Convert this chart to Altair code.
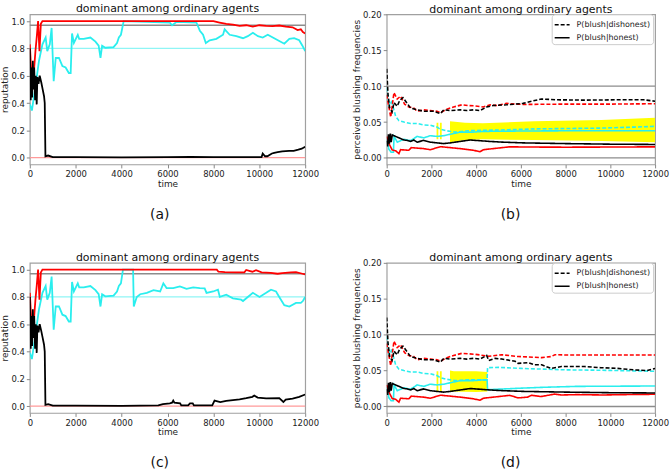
import altair as alt
import pandas as pd

TITLE = "dominant among ordinary agents"
X_TICKS = [0, 2000, 4000, 6000, 8000, 10000, 12000]
REP_TICKS = [0.0, 0.2, 0.4, 0.6, 0.8, 1.0]
BLUSH_TICKS = [0.0, 0.05, 0.10, 0.15, 0.20]

# ---------------- panel (a) / (c): reputation ----------------
red_early_t = [0, 70, 140, 190, 245, 300, 360, 420, 480, 550, 620]
red_early_v = [0.83, 0.61, 0.51, 0.66, 0.78, 0.88, 1.0, 0.78, 0.98, 1.0, 1.0]
a_red_late_t = [8000, 8270, 8560, 8850, 9140, 9430, 9720, 10000, 10300, 10580, 10870, 11160, 11450, 11670, 11810, 11900, 12000]
a_red_late_v = [1.0, 0.99, 0.98, 0.975, 0.965, 0.97, 0.96, 0.97, 0.966, 0.964, 0.968, 0.96, 0.955, 0.935, 0.94, 0.92, 0.91]
c_red_late_t = [8150, 8220, 8500, 9000, 9350, 9430, 9600, 9700, 9860, 10100, 10500, 10800, 11000, 11380, 11600, 11880, 12000]
c_red_late_v = [1.0, 0.985, 0.982, 0.98, 0.981, 0.998, 0.99, 0.985, 0.996, 0.98, 0.976, 0.97, 0.975, 0.98, 0.982, 0.97, 0.965]

cyan_early_t = [0, 90, 260, 400, 550, 690, 760, 870, 950, 1040, 1130, 1270, 1420, 1560, 1700, 1780, 1840, 1920, 2090, 2150, 2350, 2640, 2860, 3000, 3080, 3150, 3290, 3650, 3800, 3880, 3970]
cyan_early_v = [0.39, 0.345, 0.54, 0.71, 0.83, 0.88, 0.78, 0.83, 0.95, 0.56, 0.73, 0.73, 0.67, 0.66, 0.62, 0.62, 0.91, 0.84, 0.9, 0.87, 0.87, 0.88, 0.85, 0.82, 0.73, 0.82, 0.805, 0.81, 0.84, 0.88, 0.9]
a_cyan_late_t = [4030, 4090, 6100, 6200, 6400, 7260, 7410, 7550, 7670, 7840, 8130, 8420, 8490, 8710, 9000, 9290, 9500, 9720, 9940, 10150, 10370, 10590, 10870, 11090, 11310, 11520, 11740, 11880, 12000]
a_cyan_late_v = [0.95, 1.0, 0.99, 0.97, 0.995, 0.99, 0.93, 0.9, 0.84, 0.86, 0.87, 0.9, 0.94, 0.9, 0.89, 0.875, 0.89, 0.915, 0.89, 0.88, 0.9, 0.88, 0.855, 0.835, 0.87, 0.875, 0.86, 0.82, 0.78]
c_cyan_late_t = [4060, 4500, 4530, 4660, 4810, 5100, 5390, 5680, 5820, 5960, 6250, 6540, 6830, 7120, 7410, 7620, 7700, 7990, 8200, 8280, 8560, 8850, 9210, 9290, 9500, 9720, 10010, 10300, 10510, 10730, 10870, 11090, 11310, 11600, 11810, 11900, 12000]
c_cyan_late_v = [1.0, 1.0, 0.73, 0.8, 0.82, 0.83, 0.85, 0.84, 0.9, 0.865, 0.865, 0.877, 0.86, 0.87, 0.865, 0.863, 0.83, 0.84, 0.853, 0.8, 0.816, 0.79, 0.78, 0.77, 0.8, 0.83, 0.8, 0.83, 0.853, 0.84, 0.8, 0.74, 0.73, 0.756, 0.756, 0.77, 0.8]

black_early_t = [0, 40, 70, 100, 130, 160, 190, 230, 260, 300, 330, 380, 430, 500, 560, 620, 650, 680, 800, 1000, 2000, 4000]
black_early_v = [0.8, 0.42, 0.66, 0.44, 0.71, 0.5, 0.66, 0.42, 0.6, 0.39, 0.59, 0.54, 0.6, 0.55, 0.5, 0.45, 0.4, 0.01, 0.015, 0.003, 0.004, 0.002]
a_black_late_t = [6000, 7000, 8000, 10100, 10150, 10250, 10350, 10550, 10650, 10800, 11000, 11300, 11500, 11700, 11850, 12000]
a_black_late_v = [0.003, 0.005, 0.003, 0.004, 0.03, 0.01, 0.01, 0.03, 0.035, 0.04, 0.045, 0.05, 0.05, 0.058, 0.065, 0.08]
c_black_late_t = [5600, 5800, 6100, 6200, 6250, 6300, 6550, 6600, 6900, 6980, 7100, 7150, 7950, 8050, 8300, 8560, 8850, 9140, 9430, 9700, 9780, 9930, 10300, 10870, 11050, 11150, 11450, 11740, 12000]
c_black_late_v = [0.005, 0.015, 0.02, 0.025, 0.04, 0.025, 0.02, 0.005, 0.005, 0.02, 0.02, 0.005, 0.005, 0.04, 0.03, 0.038, 0.044, 0.05, 0.058, 0.068, 0.077, 0.063, 0.056, 0.058, 0.03, 0.048, 0.055, 0.068, 0.085]

rep_ref_v = [0.97, 0.8, 0.0]
rep_ref_c = ["#8c8c8c", "#8ff5f5", "#ff9a9a"]

# ---------------- panel (b) / (d): blushing frequencies ----------------
red_dash_early_t = [0, 180, 325, 470, 620, 800, 990, 1210, 1360, 1660, 1950, 2250, 2400, 2690, 2990, 3360]
red_dash_early_v = [0.088, 0.057, 0.091, 0.082, 0.086, 0.075, 0.071, 0.0695, 0.065, 0.067, 0.066, 0.065, 0.063, 0.068, 0.071, 0.074]
b_red_dash_late_t = [3650, 3950, 4320, 4620, 4900, 5360, 5800, 6100, 8000, 10000, 12000]
b_red_dash_late_v = [0.073, 0.0725, 0.071, 0.074, 0.073, 0.076, 0.075, 0.0745, 0.075, 0.075, 0.0755]
d_red_dash_late_t = [3970, 4560, 5150, 5740, 5875, 6330, 6930, 7350, 7520, 8100, 9600, 12000]
d_red_dash_late_v = [0.0726, 0.07, 0.072, 0.07, 0.0695, 0.069, 0.068, 0.0695, 0.072, 0.0717, 0.0717, 0.0717]

red_solid_early_t = [0, 100, 250, 400, 546, 620, 990, 1100, 1660, 1950, 2400, 2840, 3290, 3880, 4170, 4320, 4760, 5500]
red_solid_early_v = [0.03, 0.02, 0.011, 0.01, 0.006, 0.0115, 0.0107, 0.0144, 0.013, 0.0115, 0.0157, 0.0144, 0.013, 0.0107, 0.0087, 0.0115, 0.013, 0.0155]
b_red_solid_late_t = [6500, 8000, 10000, 12000]
b_red_solid_late_v = [0.0152, 0.015, 0.0152, 0.0155]
d_red_solid_late_t = [5875, 6300, 6470, 6900, 7500, 7800, 8500, 9700, 10500, 12000]
d_red_solid_late_v = [0.012, 0.013, 0.0156, 0.0138, 0.0172, 0.016, 0.0165, 0.016, 0.0165, 0.017]

black_dash_early_t = [0, 60, 130, 240, 325, 470, 580, 725, 870, 1065, 1360, 1660, 2100, 2400, 2550, 2840, 3290, 3580, 3880, 4170, 4470]
black_dash_early_v = [0.124, 0.088, 0.07, 0.064, 0.077, 0.072, 0.08, 0.084, 0.078, 0.0695, 0.067, 0.065, 0.065, 0.0617, 0.067, 0.066, 0.067, 0.066, 0.067, 0.066, 0.071]
b_black_dash_late_t = [4760, 5360, 6100, 6470, 6910, 7650, 8840, 10320, 11500, 12000]
b_black_dash_late_v = [0.073, 0.074, 0.076, 0.079, 0.082, 0.081, 0.0805, 0.081, 0.081, 0.079]
d_black_dash_late_t = [4560, 4850, 5150, 5740, 5875, 6330, 6610, 6930, 7350, 7810, 8830, 9570, 10320, 11060, 11650, 12000]
d_black_dash_late_v = [0.064, 0.067, 0.066, 0.063, 0.06, 0.061, 0.058, 0.058, 0.053, 0.0556, 0.0556, 0.054, 0.053, 0.051, 0.05, 0.053]

cyan_dash_early_t = [0, 100, 200, 325, 400, 546, 770, 1065, 1360, 1660, 1950, 2250, 2400, 2650, 3080]
cyan_dash_early_v = [0.098, 0.073, 0.08, 0.067, 0.058, 0.052, 0.05, 0.048, 0.048, 0.046, 0.0455, 0.043, 0.04, 0.038, 0.036]
b_cyan_dash_late_t = [3670, 5150, 6630, 8110, 9590, 11070, 12000]
b_cyan_dash_late_v = [0.038, 0.039, 0.0405, 0.041, 0.0416, 0.043, 0.044]
d_cyan_dash_late_t = [3670, 4490, 4510, 5000, 6000, 7000, 8000, 9500, 12000]
d_cyan_dash_late_v = [0.037, 0.037, 0.054, 0.0545, 0.053, 0.052, 0.051, 0.0505, 0.049]

cyan_solid_early_t = [0, 100, 200, 300, 330, 473, 770, 1065, 1360, 1660, 1950, 2250, 2545, 2840, 3290, 3880, 4320]
cyan_solid_early_v = [0.027, 0.012, 0.008, 0.008, 0.03, 0.022, 0.026, 0.024, 0.03, 0.028, 0.031, 0.03, 0.031, 0.033, 0.036, 0.036, 0.037]
b_cyan_solid_late_t = [6000, 9000, 12000]
b_cyan_solid_late_v = [0.0375, 0.038, 0.038]
d_cyan_solid_late_t = [4490, 4510, 6000, 7000, 8500, 12000]
d_cyan_solid_late_v = [0.037, 0.0234, 0.0255, 0.0267, 0.028, 0.0285]

black_solid_t = [0, 40, 80, 120, 160, 200, 250, 325, 473, 620, 770, 916, 1065, 1213, 1361, 1657, 1953, 2249, 2545, 2842, 3286, 3730, 4174, 4616, 5210, 6098, 8000, 10000, 12000]
black_solid_v = [0.024, 0.016, 0.033, 0.02, 0.034, 0.022, 0.032, 0.031, 0.029, 0.027, 0.025, 0.0245, 0.023, 0.025, 0.022, 0.0245, 0.022, 0.021, 0.02, 0.021, 0.023, 0.025, 0.024, 0.023, 0.022, 0.021, 0.02, 0.0192, 0.0188]

blush_ref_v = [0.1, 0.0]
blush_ref_c = ["#8c8c8c", "#8c8c8c"]

# yellow bands: (segment, t, lo, hi)
b_band_seg = ["s1", "s1", "s2", "s2", "s3", "s3", "s3", "s3", "s3", "s3"]
b_band_t = [2230, 2310, 2380, 2460, 2830, 3500, 4300, 6600, 9600, 12000]
b_band_lo = [0.026, 0.026, 0.026, 0.026, 0.022, 0.025, 0.026, 0.025, 0.0235, 0.022]
b_band_hi = [0.049, 0.049, 0.049, 0.049, 0.051, 0.049, 0.0485, 0.051, 0.053, 0.056]
d_band_seg = ["s1", "s1", "s2", "s2", "s3", "s3", "s3", "s3"]
d_band_t = [2230, 2310, 2380, 2460, 2830, 3000, 4000, 4500]
d_band_lo = [0.02, 0.02, 0.02, 0.02, 0.022, 0.021, 0.02, 0.021]
d_band_hi = [0.049, 0.049, 0.049, 0.049, 0.05, 0.049, 0.049, 0.048]

COLOR_DOMAIN = ["cyan", "red", "black"]
COLOR_RANGE = ["#2aeeee", "#ff0000", "#000000"]
KIND_DOMAIN = ["P(blush|dishonest)", "P(blush|honest)"]

FONT = "DejaVu Sans"


def df(t, v, col, kind=None):
    d = pd.DataFrame({"t": t, "v": v, "col": col})
    if kind is not None:
        d["kind"] = kind
    return d


def xenc():
    return alt.X("t:Q", scale=alt.Scale(domain=[0, 12000], nice=False),
                 axis=alt.Axis(values=X_TICKS, title="time", format="d", labelOverlap=False))


def panel_title(dy=0):
    return alt.TitleParams(TITLE, fontSize=11, font=FONT, fontWeight="normal",
                           anchor="middle", frame="group", offset=0, dy=dy, color="#111")


def rep_y(field):
    return alt.Y(field, scale=alt.Scale(domain=[-0.05, 1.05], nice=False, zero=False),
                 axis=alt.Axis(values=REP_TICKS, format=".1f", title="reputation", labelOverlap=False))


def blush_y(field):
    return alt.Y(field, scale=alt.Scale(domain=[-0.009, 0.2], nice=False, zero=False),
                 axis=alt.Axis(values=BLUSH_TICKS, format=".2f", title="perceived blushing frequencies",
                               labelOverlap=False))


def rep_panel(red_t, red_v, cyan_t, cyan_v, black_t, black_v):
    lines = pd.concat([df(cyan_t, cyan_v, "cyan"), df(red_t, red_v, "red"),
                       df(black_t, black_v, "black")])
    refs = pd.DataFrame({"v": rep_ref_v, "c": rep_ref_c})
    rules = alt.Chart(refs).mark_rule(strokeWidth=1.3).encode(
        y=rep_y("v:Q"), stroke=alt.Stroke("c:N", scale=None, legend=None))
    ln = alt.Chart(lines).mark_line(strokeWidth=1.8, clip=True).encode(
        x=xenc(), y=rep_y("v:Q"),
        color=alt.Color("col:N", scale=alt.Scale(domain=COLOR_DOMAIN, range=COLOR_RANGE), legend=None),
        detail="col:N")
    return alt.layer(rules, ln).properties(width=277, height=151, title=panel_title())


def blush_panel(series, band):
    lines = pd.concat(series)
    refs = pd.DataFrame({"v": blush_ref_v, "c": blush_ref_c})
    rules = alt.Chart(refs).mark_rule(strokeWidth=1.3).encode(
        y=blush_y("v:Q"), stroke=alt.Stroke("c:N", scale=None, legend=None))
    area = alt.Chart(band).mark_area(color="#ffff00", opacity=1, clip=True).encode(
        x=xenc(), y=blush_y("lo:Q"), y2="hi:Q", detail="seg:N")
    ln = alt.Chart(lines).mark_line(strokeWidth=1.6, clip=True).encode(
        x=xenc(), y=blush_y("v:Q"),
        color=alt.Color("col:N", scale=alt.Scale(domain=COLOR_DOMAIN, range=COLOR_RANGE), legend=None),
        strokeDash=alt.StrokeDash("kind:N",
                                  scale=alt.Scale(domain=KIND_DOMAIN, range=[[4, 2], [1, 0]]),
                                  legend=alt.Legend(orient="none", legendX=166, legendY=0,
                                                    title=None,
                                                    padding=2, strokeColor="#cccccc",
                                                    fillColor="white", cornerRadius=3,
                                                    symbolType="stroke", symbolSize=225,
                                                    symbolStrokeWidth=1.6,
                                                    symbolStrokeColor="black",
                                                    labelFontSize=8, labelFont=FONT,
                                                    labelColor="#222", rowPadding=0,
                                                    labelOffset=6)))
    return alt.layer(rules, area, ln).properties(width=270, height=151, title=panel_title(4.5))


def indep(c):
    return c.resolve_scale(strokeDash="independent", color="independent",
                           stroke="independent").resolve_legend(strokeDash="independent")


def label(chart, text):
    return indep(alt.vconcat(chart).properties(
        title=alt.TitleParams(text, orient="bottom", anchor="middle", fontSize=14,
                              font=FONT, fontWeight="normal", offset=19, color="#111")))


pa = rep_panel(red_early_t + a_red_late_t, red_early_v + a_red_late_v,
               cyan_early_t + a_cyan_late_t, cyan_early_v + a_cyan_late_v,
               black_early_t + a_black_late_t, black_early_v + a_black_late_v)
pc = rep_panel(red_early_t + c_red_late_t, red_early_v + c_red_late_v,
               cyan_early_t + c_cyan_late_t, cyan_early_v + c_cyan_late_v,
               black_early_t + c_black_late_t, black_early_v + c_black_late_v)

DIS, HON = KIND_DOMAIN
pb = blush_panel([
    df(cyan_dash_early_t + b_cyan_dash_late_t, cyan_dash_early_v + b_cyan_dash_late_v, "cyan", DIS),
    df(cyan_solid_early_t + b_cyan_solid_late_t, cyan_solid_early_v + b_cyan_solid_late_v, "cyan", HON),
    df(red_dash_early_t + b_red_dash_late_t, red_dash_early_v + b_red_dash_late_v, "red", DIS),
    df(red_solid_early_t + b_red_solid_late_t, red_solid_early_v + b_red_solid_late_v, "red", HON),
    df(black_dash_early_t + b_black_dash_late_t, black_dash_early_v + b_black_dash_late_v, "black", DIS),
    df(black_solid_t, black_solid_v, "black", HON),
], pd.DataFrame({"seg": b_band_seg, "t": b_band_t, "lo": b_band_lo, "hi": b_band_hi}))

pd_ = blush_panel([
    df(cyan_dash_early_t + d_cyan_dash_late_t, cyan_dash_early_v + d_cyan_dash_late_v, "cyan", DIS),
    df(cyan_solid_early_t + d_cyan_solid_late_t, cyan_solid_early_v + d_cyan_solid_late_v, "cyan", HON),
    df(red_dash_early_t + d_red_dash_late_t, red_dash_early_v + d_red_dash_late_v, "red", DIS),
    df(red_solid_early_t + d_red_solid_late_t, red_solid_early_v + d_red_solid_late_v, "red", HON),
    df(black_dash_early_t + d_black_dash_late_t, black_dash_early_v + d_black_dash_late_v, "black", DIS),
    df(black_solid_t, black_solid_v, "black", HON),
], pd.DataFrame({"seg": d_band_seg, "t": d_band_t, "lo": d_band_lo, "hi": d_band_hi}))

row1 = indep(alt.hconcat(label(pa, "(a)"), label(pb, "(b)"), spacing=31))
row2 = indep(alt.hconcat(label(pc, "(c)"), label(pd_, "(d)"), spacing=31))

chart = indep(alt.vconcat(row1, row2, spacing=29)).properties(
    padding={"left": 0, "top": 1, "right": 0, "bottom": 0}
).configure(font=FONT).configure_view(
    stroke="#a0a0a0", strokeWidth=1.2
).configure_axis(
    labelFontSize=8.5, titleFontSize=9, labelFont=FONT, titleFont=FONT,
    tickSize=3.5, tickColor="#888888", tickWidth=1, domain=False, grid=False,
    labelFlush=False, labelOverlap=False, labelPadding=2, titlePadding=1,
    titleFontWeight="normal", labelColor="#222222", titleColor="#222222"
)

chart.save("out.html", embed_options={"renderer": "svg", "actions": False})
